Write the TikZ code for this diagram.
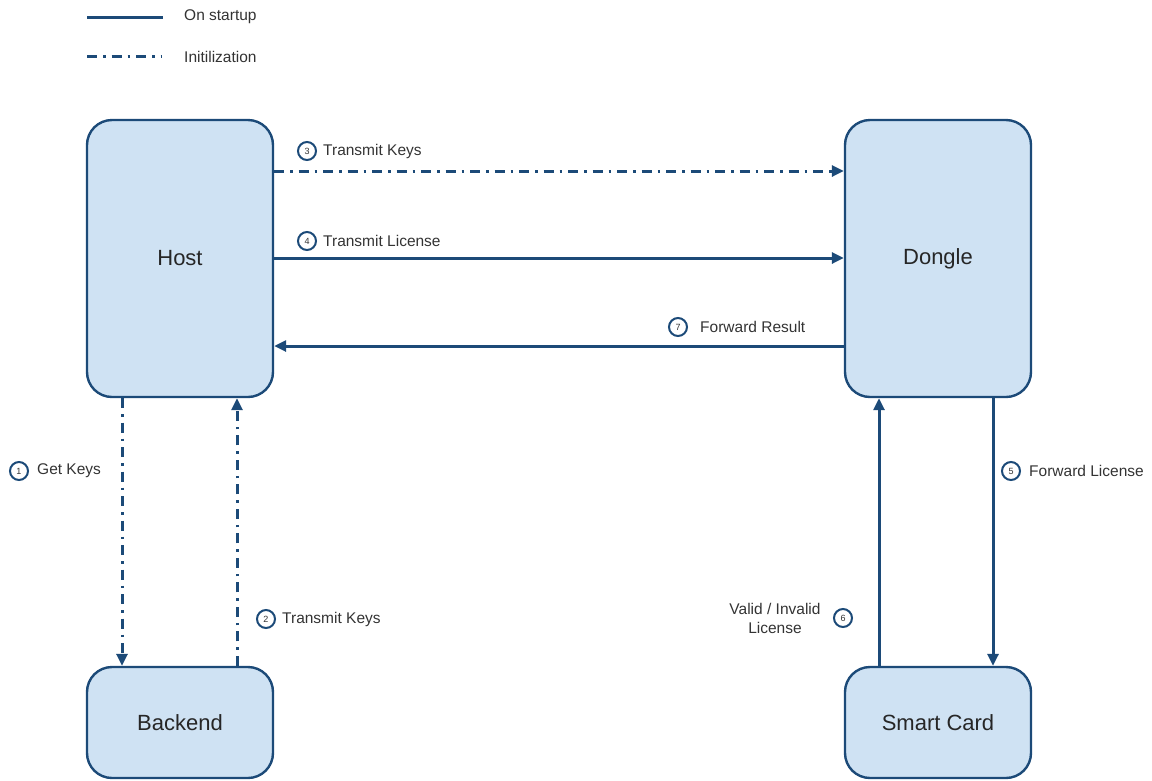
\documentclass[tikz,border=0pt]{standalone}
\usepackage{fontspec}
\setmainfont{Liberation Sans}
\usetikzlibrary{arrows.meta}
\definecolor{edge}{HTML}{1C4A78}
\definecolor{boxfill}{HTML}{CFE2F3}
\definecolor{txt}{HTML}{333333}
\tikzset{
  box/.style={draw=edge, fill=boxfill, line width=2.4pt, rounded corners=25pt, minimum width=186pt, text=black!85, font=\fontsize{22}{26}\selectfont, inner sep=0pt},
  conn/.style={draw=edge, line width=3pt, -{Triangle[length=12pt,width=11pt]}},
  dashdotline/.style={dash pattern=on 10pt off 6pt on 2.5pt off 6pt},
  num/.style={circle, draw=edge, line width=2pt, minimum size=18pt, inner sep=0pt, text=txt, font=\fontsize{9}{10}\selectfont},
  lbl/.style={text=txt, font=\fontsize{15.5}{18}\selectfont, inner sep=0pt}
}
\begin{document}
\begin{tikzpicture}[x=1pt, y=-1pt]
\useasboundingbox (0,0) rectangle (1152,780);
% legend
\coordinate (l1a) at (87,17); \coordinate (l1b) at (163,17);
\draw[edge, line width=3pt] (l1a) -- (l1b);
\node[lbl, anchor=west] (leg1) at (184,17) {On startup};
\coordinate (l2a) at (87,56); \coordinate (l2b) at (162,56);
\draw[edge, line width=3pt, dashdotline] (l2a) -- (l2b);
\node[lbl, anchor=west] (leg2) at (184,57) {Initilization};
% boxes
\node[box, minimum height=277pt] (host) at (180,258.5) {Host};
\node[box, minimum height=277pt] (dongle) at (938,258.5) {Dongle};
\node[box, minimum height=111pt] (backend) at (180,722.5) {Backend};
\node[box, minimum height=111pt] (card) at (938,722.5) {Smart Card};
% connectors
\draw[conn, dashdotline] (host.east |- 0,171) -- (dongle.west |- 0,171);
\draw[conn] (host.east |- 0,258) -- (dongle.west |- 0,258);
\draw[conn] (dongle.west |- 0,346) -- (host.east |- 0,346);
\draw[conn, dashdotline] (host.south -| 122,0) -- (backend.north -| 122,0);
\draw[conn, dashdotline] (backend.north -| 237,0) -- (host.south -| 237,0);
\draw[conn] (card.north -| 879,0) -- (dongle.south -| 879,0);
\draw[conn] (dongle.south -| 993,0) -- (card.north -| 993,0);
% labels
\node[num] (n3) at (307,151) {3};
\node[lbl, anchor=west] (t3) at ([xshift=6pt]n3.east) {Transmit Keys};
\node[num] (n4) at (307,241) {4};
\node[lbl, anchor=west] (t4) at ([xshift=6pt]n4.east) {Transmit License};
\node[num] (n7) at (678,327) {7};
\node[lbl, anchor=west] (t7) at ([xshift=12pt]n7.east) {Forward Result};
\node[num] (n1) at (19,471) {1};
\node[lbl, anchor=west] (t1) at ([xshift=8pt]n1.east) {Get Keys};
\node[num] (n2) at (266,619) {2};
\node[lbl, anchor=west] (t2) at ([xshift=6pt]n2.east) {Transmit Keys};
\node[num] (n5) at (1011,471) {5};
\node[lbl, anchor=west] (t5) at ([xshift=8pt]n5.east) {Forward License};
\node[num] (n6) at (843,618) {6};
\node[lbl, align=center, anchor=center] (t6) at (775,618.5) {Valid / Invalid\\[1pt]License};
\end{tikzpicture}
\end{document}
